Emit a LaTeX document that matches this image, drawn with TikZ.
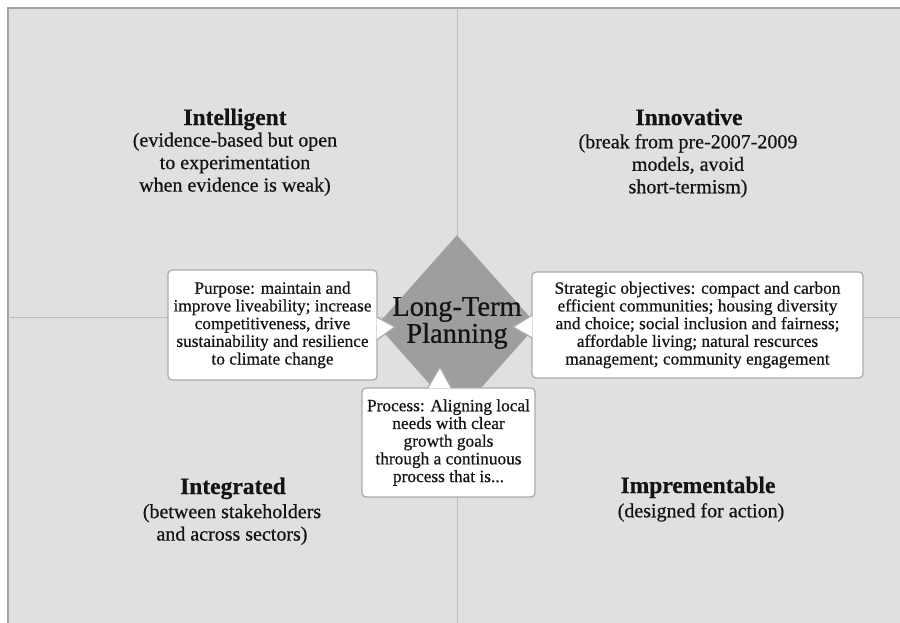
\documentclass[tikz,border=0pt]{standalone}
\usepackage{fontspec}
\setmainfont{Liberation Serif}[UprightFeatures={FakeBold=0.6},BoldFeatures={FakeBold=0.4}]
\usetikzlibrary{calc,shapes.geometric}
\definecolor{panelgray}{HTML}{E0E0E0}
\definecolor{framegray}{HTML}{A3A3A3}
\definecolor{linegray}{HTML}{BDBDBD}
\definecolor{diamondgray}{HTML}{9E9E9E}
\definecolor{boxedge}{HTML}{ABABAB}
\definecolor{inkblack}{HTML}{141414}
\tikzset{
  heading/.style={font=\fontsize{23.5}{26}\selectfont\bfseries,text=inkblack,inner sep=0pt,anchor=base},
  subnote/.style={font=\fontsize{20}{22.5}\selectfont,text=inkblack,align=center,inner sep=0pt,anchor=north},
  infobox/.style={draw=boxedge,fill=white,line width=1.3pt,rounded corners=4pt,font=\fontsize{17.3}{17.7}\selectfont,text=inkblack,align=center,inner sep=0pt},
  pointer/.style={draw=boxedge,fill=white,line width=1.3pt,line join=miter},
}
\begin{document}
\begin{tikzpicture}[x=1pt,y=-1pt]
  \useasboundingbox (0,0) rectangle (900,622);
  \fill[white] (0,0) rectangle (900,622);
  \draw[framegray,fill=panelgray,line width=1.5pt] (8,8) rectangle (915,637); %frame
  \draw[linegray,line width=1pt] (457,8) -- (457,637); %vertical divider
  \draw[linegray,line width=1pt] (8,317) -- (915,317); %horizontal divider
  \node[diamond,fill=diamondgray,minimum width=160pt,minimum height=180pt,inner sep=0pt] (core) at (457,325) {}; %center diamond
  \node[font=\fontsize{28.5}{27}\selectfont,text=inkblack,align=center,inner sep=0pt] (title) at (457,323) {Long-Term\\Planning};
  % quadrant texts
  \node[heading] (intelligent) at (235,125) {Intelligent};
  \node[subnote] (intelligentnote) at (235,132.5) {(evidence-based but open\\to experimentation\\when evidence is weak)};
  \node[heading] (innovative) at (689,125) {Innovative};
  \node[subnote] (innovativenote) at (688,134) {(break from pre-2007-2009\\models, avoid\\short-termism)};
  \node[heading] (integrated) at (233,494) {Integrated};
  \node[subnote] (integratednote) at (232,504) {(between stakeholders\\and across sectors)};
  \node[heading] (imprementable) at (698,493) {Imprementable};
  \node[subnote] (imprementablenote) at (701,503) {(designed for action)};
  % callout boxes
  \node[infobox,minimum width=209pt,minimum height=110pt] (purpose) at (272.5,325) {Purpose: maintain and\\improve liveability; increase\\competitiveness, drive\\sustainability and resilience\\to climate change};
  \node[infobox,minimum width=331pt,minimum height=106pt] (objectives) at (697.5,325) {Strategic objectives: compact and carbon\\efficient communities; housing diversity\\and choice; social inclusion and fairness;\\affordable living; natural rescurces\\management; community engagement};
  \node[infobox,minimum width=173pt,minimum height=109pt] (process) at (448.5,442.5) {Process: Aligning local\\needs with clear\\growth goals\\through a continuous\\process that is...};
  \coordinate (tipL) at (395,327);
  \coordinate (tipR) at (513,327);
  \coordinate (tipB) at (440,367);
  \draw[pointer] ($(purpose.east)+(-1,-8)$) -- (tipL) -- ($(purpose.east)+(-1,15)$); %left pointer
  \draw[pointer] ($(objectives.west)+(1,-10)$) -- (tipR) -- ($(objectives.west)+(1,13)$); %right pointer
  \draw[pointer] ($(process.north)+(-21,1)$) -- (tipB) -- ($(process.north)+(3,1)$); %bottom pointer
\end{tikzpicture}
\end{document}
